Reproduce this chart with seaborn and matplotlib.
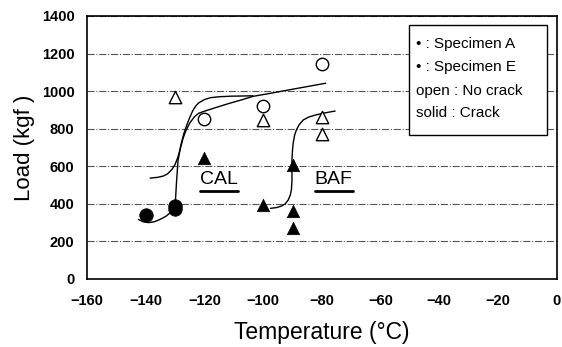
import matplotlib
matplotlib.use("Agg")
import matplotlib.pyplot as plt
from matplotlib.lines import Line2D
from matplotlib.patches import Rectangle
import seaborn as sns

# Measured points
open_circle_t = [-120, -100, -80]
open_circle_load = [850, 920, 1145]
open_tri_t = [-130, -100, -80, -80]
open_tri_load = [970, 845, 860, 770]
solid_circle_t = [-140, -130, -130]
solid_circle_load = [340, 372, 388]
solid_tri_t = [-120, -100, -90, -90, -90]
solid_tri_load = [645, 395, 605, 360, 270]

# Hand-drawn transition curves
cal_e_t = [-142.5, -141, -139, -137, -135, -133, -131.5, -130, -129.5, -129, -128,
           -127, -126, -125, -124, -123, -122, -120, -118, -115, -111, -107, -103.5]
cal_e_load = [317, 305, 300, 305, 318, 335, 355, 385, 520, 630, 715,
              775, 820, 860, 895, 920, 937, 955, 965, 970, 973, 974, 975]
cal_a_t = [-138.5, -136, -134, -132.5, -131, -130, -129, -128.3, -127.3, -126.3, -125,
           -123.5, -122, -120, -118, -115, -111.5, -107, -103.5, -98, -90, -84, -78.7]
cal_a_load = [537, 541, 548, 560, 585, 610, 650, 690, 748, 790, 830,
              862, 882, 893, 903, 918, 935, 955, 972, 987, 1010, 1027, 1042]
baf_t = [-97.5, -95.5, -93.8, -92.5, -91.5, -90.8, -90.4, -90.2, -90.2, -90.2, -90,
         -89.8, -89.3, -88.7, -87.8, -86.4, -84.5, -81.9, -79, -75.5]
baf_load = [376, 380, 388, 400, 420, 445, 473, 520, 562, 633, 690,
            722, 765, 793, 820, 846, 862, 874, 884, 894]

x_ticks = [-160, -140, -120, -100, -80, -60, -40, -20, 0]
y_ticks = [0, 200, 400, 600, 800, 1000, 1200, 1400]
legend_lines = ["\u2022 : Specimen A", "\u2022 : Specimen E", "open : No crack", "solid : Crack"]

sns.set_theme(style="white")
plt.rcParams["font.family"] = ["Liberation Sans", "DejaVu Sans"]

fig = plt.figure(figsize=(5.62, 3.47), dpi=100)
ax = fig.add_axes([0.1548, 0.196, 0.836, 0.758])

# curves
for t, load in [(cal_e_t, cal_e_load), (cal_a_t, cal_a_load), (baf_t, baf_load)]:
    sns.lineplot(x=t, y=load, ax=ax, sort=False, estimator=None,
                 color="black", linewidth=1.0, zorder=3)

# markers
sns.scatterplot(x=open_circle_t, y=open_circle_load, ax=ax, marker="o", s=80,
                facecolor="white", edgecolor="black", linewidth=1.0, zorder=4)
sns.scatterplot(x=open_tri_t, y=open_tri_load, ax=ax, marker="^", s=80,
                facecolor="white", edgecolor="black", linewidth=1.0, zorder=4)
sns.scatterplot(x=solid_circle_t, y=solid_circle_load, ax=ax, marker="o", s=95,
                color="black", edgecolor="black", linewidth=0.5, zorder=4)
sns.scatterplot(x=solid_tri_t, y=solid_tri_load, ax=ax, marker="^", s=80,
                color="black", edgecolor="black", linewidth=0.5, zorder=4)

ax.set_xlim(-160, 0)
ax.set_ylim(0, 1400)
ax.set_xticks(x_ticks)
ax.set_yticks(y_ticks)
ax.set_xticklabels([f"{v}".replace("-", "\u2212") for v in x_ticks],
                   fontsize=10.5, fontweight="bold")
ax.set_yticklabels([str(v) for v in y_ticks], fontsize=10.5, fontweight="bold")
ax.tick_params(axis="x", direction="in", length=3, pad=11, colors="black")
ax.tick_params(axis="y", direction="in", length=0, pad=9, colors="black")
ax.yaxis.grid(True, color="#555555", linestyle="-.", linewidth=0.8)
ax.xaxis.grid(False)
ax.set_axisbelow(True)
for sp in ax.spines.values():
    sp.set_color("black")
    sp.set_linewidth(1.2)

ax.set_xlabel("Temperature (\u00b0C)", fontsize=16.5, color="black", labelpad=9)
ax.set_ylabel("Load (kgf )", fontsize=16, color="black", labelpad=5)

# legend box
ax.add_patch(Rectangle((0.685, 0.548), 0.294, 0.418, transform=ax.transAxes,
                       facecolor="white", edgecolor="black", linewidth=1.0, zorder=5))
for yy, s in zip([0.894, 0.806, 0.715, 0.631], legend_lines):
    ax.text(0.700, yy, s, transform=ax.transAxes, fontsize=11, va="center",
            ha="left", color="black", zorder=6)

# underlined group labels
labels = []
for xx, s in [(-115, "CAL"), (-76, "BAF")]:
    labels.append(ax.text(xx, 527, s, fontsize=14, ha="center", va="center",
                          color="black", zorder=5))
fig.canvas.draw()
inv = fig.transFigure.inverted()
for t in labels:
    bb = t.get_window_extent()
    (x0, y0), (x1, _) = inv.transform([(bb.x0, bb.y0), (bb.x1, bb.y1)])
    fig.add_artist(Line2D([x0, x1], [y0 - 0.006, y0 - 0.006], color="black",
                          linewidth=2.0, transform=fig.transFigure))

fig.savefig("out.png", dpi=100)
